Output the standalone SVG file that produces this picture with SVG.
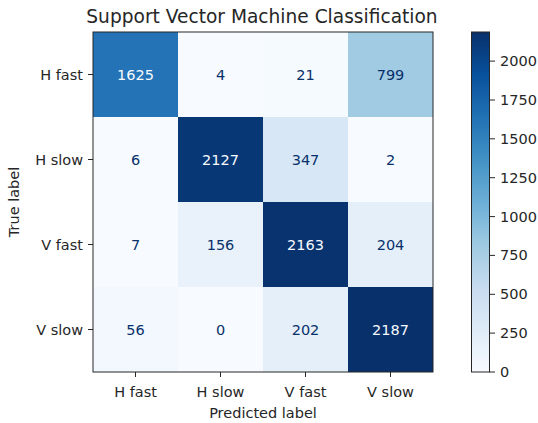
<svg xmlns="http://www.w3.org/2000/svg" width="538" height="423" viewBox="0 0 538 423">
<style>
text{font-family:"DejaVu Sans",sans-serif;fill:#262626}
.t{font-size:14.5px}
.c{font-size:14.5px;text-anchor:middle}
.ti{font-size:18.6px;text-anchor:middle}
.tick{stroke:#262626;stroke-width:1}
</style>
<defs>
<linearGradient id="blues" x1="0" y1="1" x2="0" y2="0">
<stop offset="0" stop-color="#f7fbff"/>
<stop offset="0.125" stop-color="#deebf7"/>
<stop offset="0.25" stop-color="#c6dbef"/>
<stop offset="0.375" stop-color="#9ecae1"/>
<stop offset="0.5" stop-color="#6baed6"/>
<stop offset="0.625" stop-color="#4292c6"/>
<stop offset="0.75" stop-color="#2171b5"/>
<stop offset="0.875" stop-color="#08519c"/>
<stop offset="1" stop-color="#08306b"/>
</linearGradient>
</defs>
<rect width="538" height="423" fill="#ffffff"/>
<text class="ti" x="262" y="22.5">Support Vector Machine Classification</text>
<g id="matrix">
<rect x="93" y="32" width="85" height="85" fill="rgb(35,115,182)"/>
<rect x="178" y="32" width="85" height="85" fill="#f7fbff"/>
<rect x="263" y="32" width="85" height="85" fill="rgb(245,250,254)"/>
<rect x="348" y="32" width="85" height="85" fill="rgb(161,203,226)"/>
<rect x="93" y="117" width="85" height="85" fill="#f7fbff"/>
<rect x="178" y="117" width="85" height="85" fill="rgb(8,55,118)"/>
<rect x="263" y="117" width="85" height="85" fill="rgb(216,231,245)"/>
<rect x="348" y="117" width="85" height="85" fill="#f7fbff"/>
<rect x="93" y="202" width="85" height="85" fill="#f7fbff"/>
<rect x="178" y="202" width="85" height="85" fill="rgb(233,242,250)"/>
<rect x="263" y="202" width="85" height="85" fill="rgb(8,51,111)"/>
<rect x="348" y="202" width="85" height="85" fill="rgb(228,239,249)"/>
<rect x="93" y="287" width="85" height="85" fill="rgb(242,248,253)"/>
<rect x="178" y="287" width="85" height="85" fill="#f7fbff"/>
<rect x="263" y="287" width="85" height="85" fill="rgb(229,239,249)"/>
<rect x="348" y="287" width="85" height="85" fill="#08306b"/>
<rect x="93" y="32" width="340" height="340" fill="none" stroke="#262626" stroke-width="1"/>
</g>
<g id="values">
<text class="c" x="135.5" y="80" style="fill:#f7fbff">1625</text>
<text class="c" x="220.5" y="80" style="fill:#08306b">4</text>
<text class="c" x="305.5" y="80" style="fill:#08306b">21</text>
<text class="c" x="390.5" y="80" style="fill:#08306b">799</text>
<text class="c" x="135.5" y="165" style="fill:#08306b">6</text>
<text class="c" x="220.5" y="165" style="fill:#f7fbff">2127</text>
<text class="c" x="305.5" y="165" style="fill:#08306b">347</text>
<text class="c" x="390.5" y="165" style="fill:#08306b">2</text>
<text class="c" x="135.5" y="250" style="fill:#08306b">7</text>
<text class="c" x="220.5" y="250" style="fill:#08306b">156</text>
<text class="c" x="305.5" y="250" style="fill:#f7fbff">2163</text>
<text class="c" x="390.5" y="250" style="fill:#08306b">204</text>
<text class="c" x="135.5" y="335" style="fill:#08306b">56</text>
<text class="c" x="220.5" y="335" style="fill:#08306b">0</text>
<text class="c" x="305.5" y="335" style="fill:#08306b">202</text>
<text class="c" x="390.5" y="335" style="fill:#f7fbff">2187</text>
</g>
<g id="yaxis">
<path class="tick" d="M88 74.5H93M88 159.5H93M88 244.5H93M88 329.5H93"/>
<text class="t" x="83" y="80" text-anchor="end">H fast</text>
<text class="t" x="83" y="165" text-anchor="end">H slow</text>
<text class="t" x="83" y="250" text-anchor="end">V fast</text>
<text class="t" x="83" y="335" text-anchor="end">V slow</text>
<text class="t" transform="translate(19 202) rotate(-90)" text-anchor="middle">True label</text>
</g>
<g id="xaxis">
<path class="tick" d="M135.5 372V377M220.5 372V377M305.5 372V377M390.5 372V377"/>
<text class="c" x="135.5" y="397">H fast</text>
<text class="c" x="220.5" y="397">H slow</text>
<text class="c" x="305.5" y="397">V fast</text>
<text class="c" x="390.5" y="397">V slow</text>
<text class="c" x="263" y="418">Predicted label</text>
</g>
<g id="colorbar">
<rect x="471.5" y="32" width="18" height="340" fill="url(#blues)" stroke="#262626" stroke-width="1"/>
<path class="tick" d="M489.5 372H495M489.5 333.1H495M489.5 294.3H495M489.5 255.4H495M489.5 216.6H495M489.5 177.7H495M489.5 138.8H495M489.5 100H495M489.5 61.1H495"/>
<text class="t" x="500" y="377">0</text>
<text class="t" x="500" y="338.1">250</text>
<text class="t" x="500" y="299.3">500</text>
<text class="t" x="500" y="260.4">750</text>
<text class="t" x="500" y="221.6">1000</text>
<text class="t" x="500" y="182.7">1250</text>
<text class="t" x="500" y="143.8">1500</text>
<text class="t" x="500" y="105">1750</text>
<text class="t" x="500" y="66.1">2000</text>
</g>
</svg>
